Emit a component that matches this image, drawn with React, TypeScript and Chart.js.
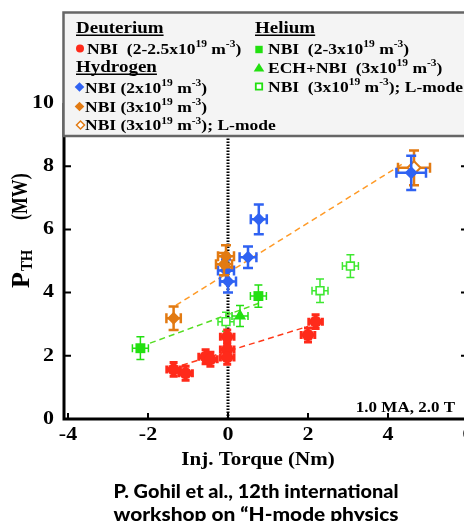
import React, { useEffect, useRef } from 'react';
import { Chart, registerables } from 'chart.js';

Chart.register(...registerables);

// ---------- axes ----------
const X_MIN = -4.1;
const X_MAX = 6;
const Y_MIN = 0;
const Y_MAX = 10;
const xTickValues = [-4, -2, 0, 2, 4, 6];
const yTickValues = [0, 2, 4, 6, 8, 10];
const xTitle = 'Inj. Torque (Nm)';
const yTitleMain = 'P';
const yTitleSub = 'TH';
const yTitleUnit = '(MW)';
const annotation = '1.0 MA, 2.0 T';
const citation = ['P. Gohil et al., 12th international', 'workshop on \u201CH-mode physics'];

// ---------- Deuterium, NBI (red circles) ----------
const dNbiX = [-1.36, -1.06, -0.56, -0.44, -0.02, -0.02, -0.02, 2.0, 2.19];
const dNbiY = [1.57, 1.45, 1.97, 1.89, 2.6, 2.2, 1.95, 2.66, 3.08];
const dNbiXErr = [0.17, 0.17, 0.17, 0.17, 0.17, 0.17, 0.17, 0.17, 0.17];
const dNbiYErr = [0.22, 0.22, 0.22, 0.22, 0.22, 0.22, 0.22, 0.22, 0.22];

// ---------- Hydrogen, NBI 2e19 (blue diamonds) ----------
const hNbi2X = [4.58, 0.77, 0.5, -0.05, 0.0];
const hNbi2Y = [7.79, 6.32, 5.12, 4.7, 4.35];
const hNbi2XErr = [0.37, 0.2, 0.21, 0.2, 0.2];
const hNbi2YErr = [0.54, 0.47, 0.34, 0.35, 0.35];

// ---------- Hydrogen, NBI 3e19 (orange diamonds) ----------
const hNbi3X = [-1.36, -0.05, -0.1];
const hNbi3Y = [3.19, 5.15, 4.9];
const hNbi3XErr = [0.18, 0.2, 0.2];
const hNbi3YErr = [0.37, 0.35, 0.35];

// ---------- Hydrogen, NBI 3e19 L-mode (open orange diamond) ----------
const hLX = [4.65];
const hLY = [7.95];
const hLXErr = [0.4];
const hLYErr = [0.55];

// ---------- Helium, NBI (green squares) ----------
const heNbiX = [-2.19, 0.76];
const heNbiY = [2.24, 3.89];
const heNbiXErr = [0.2, 0.2];
const heNbiYErr = [0.36, 0.35];

// ---------- Helium, ECH+NBI (green triangle) ----------
const heEchX = [0.3];
const heEchY = [3.26];
const heEchXErr = [0.2];
const heEchYErr = [0.33];

// ---------- Helium, NBI L-mode (open green squares) ----------
const heLX = [-0.05, 2.3, 3.06];
const heLY = [3.08, 4.06, 4.84];
const heLXErr = [0.2, 0.2, 0.2];
const heLYErr = [0.3, 0.37, 0.36];

// ---------- trend lines (end points) ----------
const fitOrangeX = [-1.3, 4.4];
const fitOrangeY = [3.6, 8.1];
const fitGreenX = [-1.95, 0.85];
const fitGreenY = [2.4, 3.7];
const fitRedX = [-1.15, 2.0];
const fitRedY = [1.7, 2.93];
const zeroLineX = [0, 0];
const zeroLineY = [0, 10];

// ---------- legend ----------
const legendHeaders = ['Deuterium', 'Hydrogen', 'Helium'];
const legendLabels = [
  'NBI  (2-2.5x10^{19} m^{-3})',
  'NBI (2x10^{19} m^{-3})',
  'NBI (3x10^{19} m^{-3})',
  'NBI (3x10^{19} m^{-3}); L-mode',
  'NBI  (2-3x10^{19} m^{-3})',
  'ECH+NBI  (3x10^{19} m^{-3})',
  'NBI  (3x10^{19} m^{-3}); L-mode',
];

const RED = '#ff2a1a';
const BLUE = '#2f62f2';
const ORANGE = '#e27a12';
const GREEN = '#22e010';
const GREEN_L = '#3ee830';

const SERIF = '"Liberation Serif", "Times New Roman", Times, serif';
const SANS = 'Lato, "DejaVu Sans", sans-serif';

const pts = (xs: number[], ys: number[]) => xs.map((x, i) => ({ x, y: ys[i] }));

function drawText(ctx: any, s: string, x: number, y: number, size: number, align: string, sy = 0.88, baseline = 'alphabetic', fam = SERIF, sx = 1) {
  ctx.save();
  ctx.font = `bold ${size}px ${fam}`;
  ctx.fillStyle = '#000';
  ctx.textAlign = align;
  ctx.textBaseline = baseline;
  ctx.translate(x, y);
  ctx.scale(sx, sy);
  ctx.fillText(s, 0, 0);
  ctx.restore();
}

function drawRich(ctx: any, markup: string, x: number, y: number, size: number, supSize: number, sy = 0.88) {
  const parts: { t: string; sup: boolean }[] = [];
  const re = /\^\{([^}]*)\}/g;
  let last = 0;
  let m: any;
  while ((m = re.exec(markup))) {
    if (m.index > last) parts.push({ t: markup.slice(last, m.index), sup: false });
    parts.push({ t: m[1], sup: true });
    last = m.index + m[0].length;
  }
  if (last < markup.length) parts.push({ t: markup.slice(last), sup: false });
  let cx = x;
  ctx.save();
  ctx.fillStyle = '#000';
  ctx.textAlign = 'left';
  ctx.textBaseline = 'alphabetic';
  for (const p of parts) {
    const fs = p.sup ? supSize : size;
    ctx.font = `bold ${fs}px ${SERIF}`;
    const w = ctx.measureText(p.t).width;
    ctx.save();
    ctx.translate(cx, y - (p.sup ? size * 0.36 : 0));
    ctx.scale(1, sy);
    ctx.fillText(p.t, 0, 0);
    ctx.restore();
    cx += w;
  }
  ctx.restore();
}

function drawMarker(ctx: any, style: string, x: number, y: number, r: number, color: string, filled: boolean, lw = 1.5) {
  ctx.save();
  ctx.beginPath();
  if (style === 'circle') ctx.arc(x, y, r, 0, Math.PI * 2);
  else if (style === 'diamond') {
    ctx.moveTo(x - r, y); ctx.lineTo(x, y - r); ctx.lineTo(x + r, y); ctx.lineTo(x, y + r); ctx.closePath();
  } else if (style === 'square') ctx.rect(x - r, y - r, 2 * r, 2 * r);
  else if (style === 'triangle') {
    ctx.moveTo(x - r, y + r * 0.75); ctx.lineTo(x, y - r * 0.85); ctx.lineTo(x + r, y + r * 0.75); ctx.closePath();
  }
  if (filled) {
    ctx.fillStyle = color; ctx.fill();
  } else {
    ctx.fillStyle = '#fff'; ctx.fill();
    ctx.strokeStyle = color; ctx.lineWidth = lw; ctx.stroke();
  }
  ctx.restore();
}

const errorBarPlugin = {
  id: 'errbars',
  beforeDatasetDraw(chart: any, args: any) {
    const ds: any = chart.data.datasets[args.index];
    if (!ds.errX) return;
    const meta = chart.getDatasetMeta(args.index);
    const xs = chart.scales.x;
    const ys = chart.scales.y;
    const ctx = chart.ctx;
    ctx.save();
    ctx.strokeStyle = ds.errColor;
    ctx.lineWidth = ds.errWidth;
    meta.data.forEach((el: any, i: number) => {
      const p = ds.data[i];
      const cx = el.x;
      const cy = el.y;
      const x1 = xs.getPixelForValue(p.x - ds.errX[i]);
      const x2 = xs.getPixelForValue(p.x + ds.errX[i]);
      const y1 = ys.getPixelForValue(p.y - ds.errY[i]);
      const y2 = ys.getPixelForValue(p.y + ds.errY[i]);
      const c = ds.capSize;
      ctx.beginPath();
      ctx.moveTo(x1, cy); ctx.lineTo(x2, cy);
      ctx.moveTo(cx, y1); ctx.lineTo(cx, y2);
      ctx.moveTo(x1, cy - c); ctx.lineTo(x1, cy + c);
      ctx.moveTo(x2, cy - c); ctx.lineTo(x2, cy + c);
      ctx.moveTo(cx - c, y1); ctx.lineTo(cx + c, y1);
      ctx.moveTo(cx - c, y2); ctx.lineTo(cx + c, y2);
      ctx.stroke();
    });
    ctx.restore();
  },
};

const decorPlugin = {
  id: 'decor',
  afterDraw(chart: any) {
    const ctx = chart.ctx;
    const a = chart.chartArea;
    const xs = chart.scales.x;
    const ys = chart.scales.y;
    ctx.save();
    // axes frame
    ctx.strokeStyle = '#000';
    ctx.lineWidth = 3;
    ctx.beginPath();
    ctx.moveTo(a.left, a.top); ctx.lineTo(a.left, a.bottom); ctx.lineTo(a.right, a.bottom); ctx.lineTo(a.right, a.top);
    ctx.stroke();
    // inward ticks
    ctx.lineWidth = 2;
    ctx.beginPath();
    for (const v of yTickValues) {
      const py = ys.getPixelForValue(v);
      ctx.moveTo(a.left, py); ctx.lineTo(a.left + 7, py);
      ctx.moveTo(a.right, py); ctx.lineTo(a.right - 7, py);
    }
    for (const v of xTickValues) {
      const px = xs.getPixelForValue(v);
      ctx.moveTo(px, a.bottom); ctx.lineTo(px, a.bottom - 6);
    }
    ctx.stroke();
    // tick labels
    for (const v of yTickValues) {
      drawText(ctx, String(v), 54, ys.getPixelForValue(v), 22, 'right', 0.86, 'middle');
    }
    for (const v of xTickValues) {
      drawText(ctx, String(v), xs.getPixelForValue(v), 435, 22, 'center', 0.86, 'middle');
    }
    // x title
    drawText(ctx, xTitle, 258, 465, 21, 'center', 0.9);
    // y title (rotated)
    ctx.save();
    ctx.translate(29, 288);
    ctx.rotate(-Math.PI / 2);
    ctx.fillStyle = '#000';
    ctx.textAlign = 'left';
    ctx.textBaseline = 'alphabetic';
    ctx.font = `bold 26px ${SERIF}`;
    ctx.fillText(yTitleMain, 0, 0);
    const wP = ctx.measureText(yTitleMain).width;
    ctx.save();
    ctx.translate(wP + 1, 3);
    ctx.scale(0.87, 1);
    ctx.font = `bold 17px ${SERIF}`;
    ctx.fillText(yTitleSub, 0, 0);
    ctx.restore();
    ctx.save();
    ctx.translate(68, -2);
    ctx.scale(0.85, 1.05);
    ctx.font = `bold 21px ${SERIF}`;
    ctx.fillText(yTitleUnit, 0, 0);
    ctx.restore();
    ctx.restore();
    // annotation
    drawText(ctx, annotation, 455, 412, 17, 'right', 0.88);

    // legend box
    ctx.fillStyle = '#f4f4f4';
    ctx.fillRect(63, 12, 440, 124);
    ctx.strokeStyle = '#666';
    ctx.lineWidth = 2.5;
    ctx.strokeRect(63.5, 12.5, 440, 123.5);

    const hdr = (s: string, x: number, y: number) => {
      drawText(ctx, s, x, y, 19, 'left', 0.87);
      ctx.font = `bold 19px ${SERIF}`;
      const w = ctx.measureText(s).width;
      ctx.fillStyle = '#000';
      ctx.fillRect(x, y + 1.5, w, 1.5);
    };
    const FS = 17.5;
    const SS = 11.5;
    hdr(legendHeaders[0], 76, 33);
    drawMarker(ctx, 'circle', 80, 48.5, 4, RED, true);
    drawRich(ctx, legendLabels[0], 87, 53.5, FS, SS);
    hdr(legendHeaders[1], 76, 72);
    drawMarker(ctx, 'diamond', 79.5, 87, 4.8, BLUE, true);
    drawRich(ctx, legendLabels[1], 85, 92.5, FS, SS);
    drawMarker(ctx, 'diamond', 79.5, 106.5, 4.8, ORANGE, true);
    drawRich(ctx, legendLabels[2], 85, 111.5, FS, SS);
    drawMarker(ctx, 'diamond', 80.5, 125, 4, ORANGE, false, 1.5);
    drawRich(ctx, legendLabels[3], 85, 130, FS, SS);
    hdr(legendHeaders[2], 255, 33);
    drawMarker(ctx, 'square', 259, 49.5, 3.7, GREEN, true);
    drawRich(ctx, legendLabels[4], 268, 53.5, FS, SS);
    drawMarker(ctx, 'triangle', 259, 67.5, 5.3, GREEN, true);
    drawRich(ctx, legendLabels[5], 268, 72.5, FS, SS);
    drawMarker(ctx, 'square', 259, 86.5, 3.2, GREEN, false, 1.8);
    drawRich(ctx, legendLabels[6], 268, 91.5, FS, SS);

    // citation
    const fitLine = (s: string, cx: number, y: number, width: number) => {
      ctx.save();
      ctx.font = `900 18px ${SANS}`;
      const w = ctx.measureText(s).width;
      ctx.translate(cx, y);
      ctx.scale(width / w, 1);
      ctx.fillStyle = '#000';
      ctx.textAlign = 'center';
      ctx.textBaseline = 'alphabetic';
      ctx.fillText(s, 0, 0);
      ctx.restore();
    };
    fitLine(citation[0], 256, 498, 285);
    fitLine(citation[1], 256, 521, 285);
    ctx.restore();
  },
};

function scatterSet(xs: number[], ys: number[], ex: number[], ey: number[], style: string, r: number, color: string, filled: boolean, errWidth: number, cap: number, order: number, bw = 1.5) {
  return {
    data: pts(xs, ys),
    pointStyle: style,
    pointRadius: r,
    pointBackgroundColor: filled ? color : '#ffffff',
    pointBorderColor: color,
    pointBorderWidth: filled ? 0 : bw,
    showLine: false,
    errX: ex,
    errY: ey,
    errColor: color,
    errWidth,
    capSize: cap,
    order,
  };
}

function lineSet(xs: number[], ys: number[], color: string, width: number, dash: number[], order: number) {
  return {
    data: pts(xs, ys),
    showLine: true,
    borderColor: color,
    borderWidth: width,
    borderDash: dash,
    pointRadius: 0,
    fill: false,
    order,
  };
}

export default function App() {
  const ref = useRef<HTMLCanvasElement>(null);
  useEffect(() => {
    const canvas = ref.current as HTMLCanvasElement;
    const datasets: any[] = [
      lineSet(zeroLineX, zeroLineY, '#000', 3, [1.5, 1.5], 20),
      lineSet(fitOrangeX, fitOrangeY, '#ff9a26', 1.5, [6, 4], 19),
      lineSet(fitGreenX, fitGreenY, '#55dd22', 1.5, [6, 4], 19),
      lineSet(fitRedX, fitRedY, '#ff3a1a', 1.5, [6, 4], 19),
      scatterSet(heLX, heLY, heLXErr, heLYErr, 'rect', 5.5, GREEN_L, false, 1.5, 4, 9, 1.6),
      scatterSet(heNbiX, heNbiY, heNbiXErr, heNbiYErr, 'rect', 7, GREEN, true, 1.5, 4, 8),
      scatterSet(heEchX, heEchY, heEchXErr, heEchYErr, 'triangle', 7, GREEN, true, 1.5, 4, 8),
      scatterSet(dNbiX, dNbiY, dNbiXErr, dNbiYErr, 'circle', 6, RED, true, 3, 4, 7),
      scatterSet(hLX, hLY, hLXErr, hLYErr, 'rectRot', 6.5, ORANGE, false, 2.5, 5, 6, 2),
      scatterSet(hNbi2X, hNbi2Y, hNbi2XErr, hNbi2YErr, 'rectRot', 6.5, BLUE, true, 2.5, 5, 5),
      scatterSet(hNbi3X, hNbi3Y, hNbi3XErr, hNbi3YErr, 'rectRot', 6.5, ORANGE, true, 2.5, 5, 4),
    ];
    const chart = new Chart(canvas, {
      type: 'scatter',
      data: { datasets },
      options: {
        responsive: false,
        maintainAspectRatio: false,
        animation: false,
        devicePixelRatio: 1,
        layout: { padding: { top: 103, right: 12, left: 0, bottom: 0 } },
        plugins: { legend: { display: false }, tooltip: { enabled: false }, title: { display: false } },
        scales: {
          x: {
            type: 'linear',
            min: X_MIN,
            max: X_MAX,
            ticks: { display: false },
            grid: { display: false },
            border: { display: false },
            afterFit: (s: any) => { s.height = 102; },
          },
          y: {
            type: 'linear',
            min: Y_MIN,
            max: Y_MAX,
            ticks: { display: false },
            grid: { display: false },
            border: { display: false },
            afterFit: (s: any) => { s.width = 64; },
          },
        },
      } as any,
      plugins: [errorBarPlugin, decorPlugin],
    });
    return () => chart.destroy();
  }, []);
  return (
    <div style={{ position: 'fixed', left: 0, top: 0, width: 464, height: 521, overflow: 'hidden', background: '#fff' }}>
      <canvas ref={ref} width={480} height={521} style={{ display: 'block', width: 480, height: 521 }} />
    </div>
  );
}
